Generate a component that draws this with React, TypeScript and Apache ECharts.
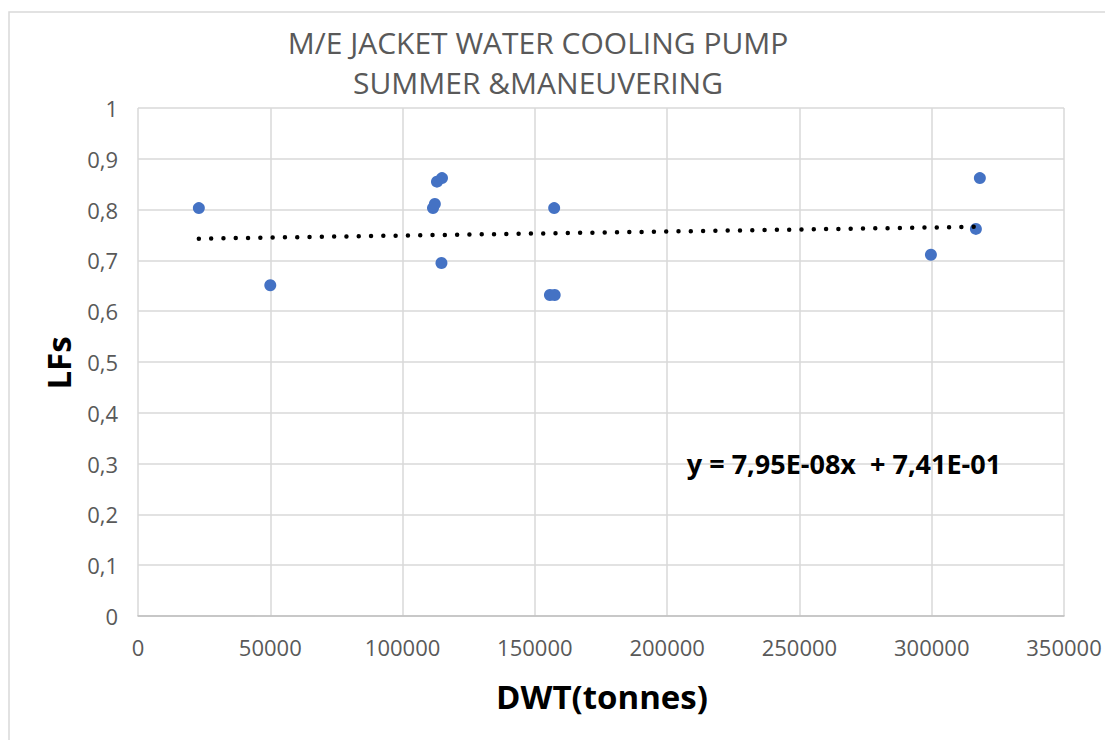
import React, { useEffect, useRef } from "react";
import * as echarts from "echarts";

const titleLines = ["M/E JACKET WATER COOLING PUMP", "SUMMER &MANEUVERING"];
const xAxisTitle = "DWT(tonnes)";
const yAxisTitle = "LFs";
const equationText = "y = 7,95E-08x  + 7,41E-01";

const dwt = [23000, 50000, 111500, 112200, 113000, 114900, 114700, 155700, 157500, 157300, 299700, 316700, 318200];
const lfs = [0.803, 0.651, 0.803, 0.811, 0.855, 0.862, 0.695, 0.632, 0.632, 0.803, 0.711, 0.762, 0.862];

const trendSlope = 7.95e-8;
const trendIntercept = 0.741;

const FONT = "Open Sans";

export default function App() {
  const ref = useRef<HTMLDivElement>(null);

  useEffect(() => {
    if (!ref.current) return;
    const chart = echarts.init(ref.current, null, { renderer: "svg" });
    const points = dwt.map((x, i) => [x, lfs[i]]);
    const xMin = Math.min(...dwt);
    const xMax = Math.max(...dwt);
    const trend = [
      [xMin, trendIntercept + trendSlope * xMin],
      [xMax, trendIntercept + trendSlope * xMax],
    ];
    const fmtY = (v: number) => String(+v.toFixed(1)).replace(".", ",");
    const fmtX = (v: number) => String(Math.round(v));

    const txt = (text: string, x: number, y: number, size: number, weight: string, color: string, rotation = 0) => ({
      type: "text",
      x,
      y,
      rotation,
      silent: true,
      style: {
        text,
        fill: color,
        fontSize: size,
        fontWeight: weight,
        fontFamily: FONT,
        textAlign: "center",
        textVerticalAlign: "middle",
      },
    });

    chart.setOption({
      animation: false,
      backgroundColor: "#ffffff",
      textStyle: { fontFamily: FONT },
      title: [
        {
          text: titleLines.join("\n"),
          left: 538,
          top: 22,
          textAlign: "center",
          padding: 0,
          textStyle: {
            fontFamily: FONT,
            fontSize: 30,
            fontWeight: "normal",
            color: "#595959",
            lineHeight: 40,
          },
        },
        {
          text: equationText,
          left: 844,
          top: 448,
          textAlign: "center",
          padding: 0,
          textStyle: {
            fontFamily: FONT,
            fontSize: 27,
            fontWeight: "bold",
            color: "#000000",
            lineHeight: 30,
          },
        },
      ],
      grid: { left: 138, right: 41, top: 108, bottom: 124 },
      xAxis: {
        type: "value",
        min: 0,
        max: 350000,
        interval: 50000,
        axisLine: { show: true, lineStyle: { color: "#bfbfbf", width: 1.5 } },
        axisTick: { show: false },
        axisLabel: { color: "#595959", fontSize: 22, margin: 20, fontFamily: FONT, formatter: fmtX },
        splitLine: { show: true, lineStyle: { color: "#d9d9d9", width: 1.5 } },
      },
      yAxis: {
        type: "value",
        min: 0,
        max: 1,
        interval: 0.1,
        axisLine: { show: false },
        axisTick: { show: false },
        axisLabel: { color: "#595959", fontSize: 22, margin: 20, formatter: fmtY, fontFamily: FONT },
        splitLine: { show: true, lineStyle: { color: "#d9d9d9", width: 1.5 } },
      },
      series: [
        {
          type: "line",
          data: trend,
          symbol: "none",
          silent: true,
          z: 3,
          lineStyle: { color: "#000000", width: 4.5, type: [0, 12.3], cap: "round" },
        },
        {
          type: "scatter",
          data: points,
          symbol: "circle",
          symbolSize: 12,
          z: 2,
          itemStyle: { color: "#4472C4", opacity: 1 },
        },
      ],
      graphic: [
        {
          type: "rect",
          silent: true,
          z: -10,
          shape: { x: 9, y: 12, width: 1110, height: 750 },
          style: { fill: "none", stroke: "#d9d9d9", lineWidth: 1.5 },
        },
        txt(xAxisTitle, 602, 696, 33, "bold", "#000000"),
        txt(yAxisTitle, 58, 363, 33, "bold", "#000000", Math.PI / 2),
      ],
    });
    return () => chart.dispose();
  }, []);

  return (
    <div
      ref={ref}
      style={{ position: "fixed", left: 0, top: 0, width: 1105, height: 740 }}
    />
  );
}
